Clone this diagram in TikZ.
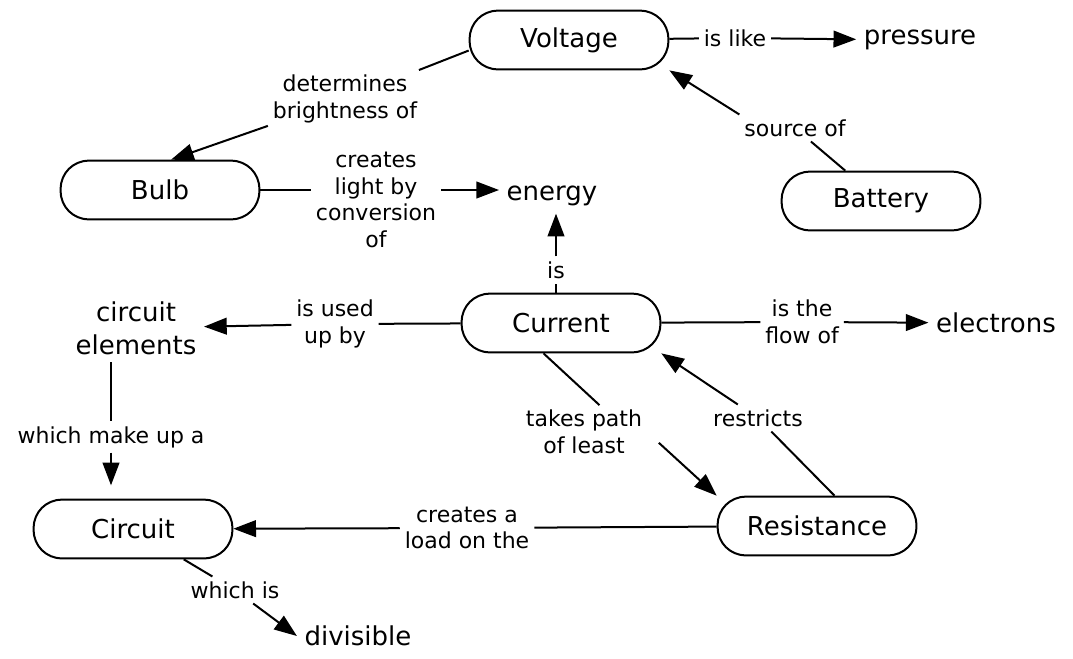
\documentclass[tikz,border=0pt]{standalone}
\usepackage{fontspec}
\setmainfont{DejaVu Sans}
\usetikzlibrary{arrows.meta}

\begin{document}
\begin{tikzpicture}[x=0.75pt, y=-0.75pt, line width=1.5pt,
	concept/.style={draw, rounded corners=21pt, minimum width=149pt, minimum height=44pt, font=\fontsize{19.5}{25}\selectfont},
	term/.style={inner sep=5pt, align=center, font=\fontsize{19.5}{25}\selectfont},
	phrase/.style={inner sep=3pt, align=center, font=\fontsize{16.5}{20}\selectfont},
	>={Triangle[length=17pt, width=12.5pt]}]
	\useasboundingbox (0,0) rectangle (1073,658);
	% concepts
	\node[concept] (volt) at (569,40) {Voltage};
	\node[concept] (bulb) at (160,190) {Bulb};
	\node[concept] (batt) at (881,201) {Battery};
	\node[concept] (curr) at (561,323) {Current};
	\node[concept] (res) at (817,526) {Resistance};
	\node[concept] (circ) at (133,529) {Circuit};
	\node[term] (press) at (920,40) {pressure};
	\node[term] (energy) at (552,196) {energy};
	\node[term] (elems) at (136,328) {circuit\\elements};
	\node[term] (elec) at (996,323) {electrons};
	\node[term] (divis) at (358,636) {divisible};
	% linking phrases
	\node[phrase] (lLike) at (735,38) {is like};
	\node[phrase] (lDet) at (345,99) {determines\\brightness of};
	\node[phrase] (lSrc) at (795,128) {source of};
	\node[phrase] (lCreate) at (376,200) {creates\\light by\\conversion\\of};
	\node[phrase] (lIs) at (556,270) {is};
	\node[phrase] (lUsed) at (335,324) {is used\\up by};
	\node[phrase] (lFlow) at (802,322) {is the\\flow of};
	\node[phrase] (lPath) at (584,432) {takes path\\of least};
	\node[phrase] (lRestr) at (758,418) {restricts};
	\node[phrase] (lLoad) at (467,528) {creates a\\load on the};
	\node[phrase] (lMake) at (111,437) {which make up a};
	\node[phrase] (lWhich) at (235,590) {which is};
	\path[-]
	(volt) edge (lLike)
	(volt.186) edge (lDet)
	(bulb) edge (bulb -| lCreate.west)
	(batt) edge (lSrc)
	(curr.north -| lIs) edge (lIs)
	(curr) edge (lUsed)
	edge (lFlow)
	(curr.240) edge (lPath.60)
	(res.60) edge (lRestr)
	(res) edge (lLoad)
	(elems.south -| lMake) edge (lMake)
	(circ) edge (lWhich)
	;
	\path[->]
	(lLike) edge (press)
	(lDet) edge (bulb.70)
	(lSrc.north west) edge (volt.south east)
	(lCreate.east |- bulb) edge (energy.west |- bulb)
	(lIs) edge (lIs |- energy.south)
	(lUsed) edge (elems)
	(lFlow) edge (elec)
	(lPath.east) edge[shorten <=12pt] (res.north west)
	(lRestr) edge (curr.south east)
	(lLoad) edge (circ)
	(lMake) edge[shorten >=10pt] (lMake |- circ.north)
	(lWhich) edge (divis.west)
	;
\end{tikzpicture}
\end{document}
